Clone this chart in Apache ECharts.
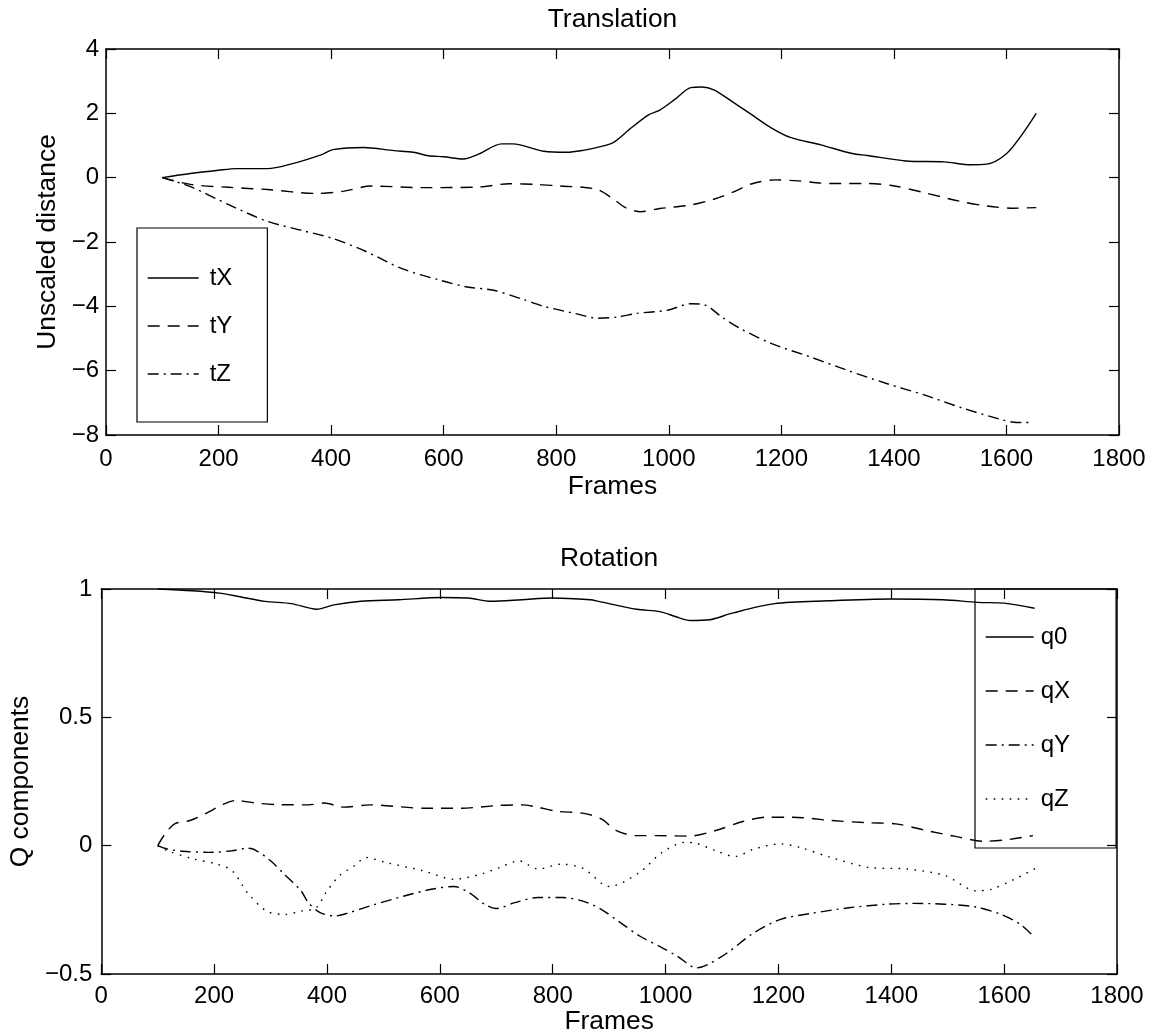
<!DOCTYPE html>
<html>
<head>
<meta charset="utf-8">
<script src="https://cdn.jsdelivr.net/npm/echarts@6/dist/echarts.min.js"></script>
<style>
  html, body { margin: 0; padding: 0; background: #fff; }
  #chart { width: 1159px; height: 1036px; }
</style>
</head>
<body>
<div id="chart"></div>
<script>
// ---- Translation (unscaled distance per frame) ----
const tXFrames = [100,150,200,232,287,328,382,403,457,512,546,573,600,635,662,703,723,778,819,848,875,902,930,964,984,1012,1039,1059,1080,1114,1148,1182,1216,1270,1326,1352,1421,1489,1537,1565,1599,1626,1653];
const tXValues = [0,0.13,0.23,0.28,0.28,0.42,0.71,0.87,0.94,0.84,0.79,0.68,0.65,0.58,0.73,1.05,1.05,0.82,0.79,0.85,0.95,1.1,1.5,1.95,2.1,2.45,2.8,2.82,2.73,2.35,1.95,1.55,1.25,1.02,0.75,0.69,0.52,0.49,0.40,0.42,0.73,1.3,2.0];

const tYFrames = [100,150,218,287,375,423,471,560,662,717,765,807,848,875,902,923,950,984,1039,1080,1114,1148,1189,1230,1285,1353,1401,1455,1516,1565,1612,1653];
const tYValues = [0,-0.21,-0.3,-0.37,-0.49,-0.42,-0.26,-0.31,-0.29,-0.19,-0.21,-0.26,-0.3,-0.38,-0.67,-0.93,-1.06,-0.96,-0.85,-0.67,-0.45,-0.19,-0.07,-0.1,-0.18,-0.18,-0.26,-0.47,-0.73,-0.88,-0.95,-0.93];

const tZFrames = [100,150,218,287,348,403,460,526,594,642,689,737,778,833,874,910,943,998,1039,1066,1094,1128,1183,1251,1319,1387,1455,1523,1591,1618,1648];
const tZValues = [0,-0.28,-0.84,-1.36,-1.64,-1.89,-2.28,-2.83,-3.19,-3.4,-3.5,-3.76,-4.0,-4.22,-4.37,-4.33,-4.22,-4.12,-3.92,-3.97,-4.33,-4.7,-5.16,-5.57,-6.0,-6.4,-6.76,-7.17,-7.52,-7.61,-7.61];

// ---- Rotation (quaternion components per frame) ----
const q0Frames = [100,161,209,243,290,337,382,412,460,527,602,650,690,745,799,867,881,949,990,1017,1044,1078,1118,1193,1288,1400,1492,1553,1600,1654];
const q0Values = [1.0,0.993,0.984,0.971,0.952,0.943,0.921,0.938,0.952,0.958,0.967,0.965,0.952,0.958,0.965,0.958,0.952,0.921,0.912,0.893,0.877,0.88,0.906,0.943,0.954,0.961,0.958,0.948,0.945,0.925];

const qXFrames = [100,113,130,157,184,218,239,273,313,367,395,429,476,571,638,706,746,773,807,855,886,913,947,988,1042,1089,1137,1178,1225,1293,1361,1408,1462,1516,1564,1604,1651];
const qXValues = [0,0.046,0.085,0.098,0.124,0.163,0.176,0.166,0.16,0.159,0.166,0.15,0.159,0.146,0.146,0.157,0.159,0.15,0.134,0.126,0.104,0.059,0.039,0.039,0.037,0.059,0.094,0.111,0.111,0.098,0.089,0.085,0.059,0.035,0.017,0.023,0.039];

const qYFrames = [100,117,144,191,232,259,273,300,327,354,367,388,415,435,476,537,585,625,652,679,699,733,774,818,859,886,920,954,994,1021,1055,1075,1109,1157,1204,1258,1325,1393,1440,1494,1548,1595,1629,1653];
const qYValues = [0,-0.013,-0.022,-0.026,-0.02,-0.01,-0.017,-0.059,-0.117,-0.176,-0.222,-0.261,-0.274,-0.264,-0.235,-0.196,-0.17,-0.159,-0.183,-0.228,-0.245,-0.222,-0.202,-0.202,-0.22,-0.248,-0.3,-0.352,-0.398,-0.431,-0.476,-0.463,-0.418,-0.339,-0.287,-0.264,-0.242,-0.228,-0.225,-0.228,-0.238,-0.268,-0.307,-0.355];

const qZFrames = [100,117,164,205,232,259,293,327,354,381,398,422,449,469,503,571,625,673,706,740,774,815,855,900,954,994,1035,1055,1089,1123,1157,1204,1238,1293,1361,1428,1496,1550,1577,1618,1655];
const qZValues = [0,-0.02,-0.052,-0.072,-0.098,-0.183,-0.255,-0.268,-0.255,-0.242,-0.183,-0.117,-0.078,-0.046,-0.065,-0.098,-0.131,-0.111,-0.085,-0.059,-0.091,-0.072,-0.09,-0.159,-0.104,-0.026,0.013,0.009,-0.02,-0.042,-0.013,0.007,-0.007,-0.046,-0.085,-0.091,-0.117,-0.176,-0.17,-0.131,-0.089];

// ---- Axis settings ----
const frameRange = { min: 0, max: 1800, interval: 200 };
const transRange = { min: -8, max: 4, interval: 2 };
const rotRange = { min: -0.5, max: 1, interval: 0.5 };

const FONT = '"Liberation Sans", Arial, Helvetica, sans-serif';
const FS = 24;      // tick and legend text
const FS_NAME = 26.4; // titles and axis names

const DASH = {
  solid: 'solid',
  dashed: [12, 8],
  dashdot: [11, 5, 2, 5],
  dotted: [1.6, 6.4]
};

function zip(xs, ys) { return xs.map((x, i) => [x, ys[i]]); }
function minus(v) { return String(v).replace('-', '\u2212'); }

const axisLineStyle = { show: true, onZero: false, lineStyle: { color: '#000', width: 1.5 } };
const tickStyle = { show: true, inside: true, length: 10, lineStyle: { color: '#000', width: 1.2 } };
const labelStyle = { color: '#000', fontSize: FS, fontFamily: FONT };
const nameStyle = { color: '#000', fontSize: FS_NAME, fontFamily: FONT };

function xAxes(grid, name, nameGap, labelMargin, title, titleGap) {
  return [
    Object.assign({ gridIndex: grid, type: 'value', position: 'bottom',
      name: name, nameLocation: 'middle', nameGap: nameGap,
      nameTextStyle: nameStyle,
      axisLine: axisLineStyle, axisTick: tickStyle,
      axisLabel: Object.assign({ margin: labelMargin, formatter: minus }, labelStyle),
      splitLine: { show: false } }, frameRange),
    Object.assign({ gridIndex: grid, type: 'value', position: 'top',
      name: title, nameLocation: 'middle', nameGap: titleGap,
      nameTextStyle: nameStyle,
      axisLine: axisLineStyle, axisTick: tickStyle,
      axisLabel: { show: false }, splitLine: { show: false } }, frameRange)
  ];
}

function yAxes(grid, range, name, nameGap, margin) {
  return [
    Object.assign({ gridIndex: grid, type: 'value', position: 'left',
      name: name, nameLocation: 'middle', nameGap: nameGap,
      nameTextStyle: nameStyle,
      axisLine: axisLineStyle, axisTick: tickStyle,
      axisLabel: Object.assign({ margin: margin, formatter: minus }, labelStyle),
      splitLine: { show: false } }, range),
    Object.assign({ gridIndex: grid, type: 'value', position: 'right',
      axisLine: axisLineStyle, axisTick: tickStyle,
      axisLabel: { show: false }, splitLine: { show: false } }, range)
  ];
}

function lineSeries(name, frames, values, dash, xi, yi) {
  return {
    name: name, type: 'line', xAxisIndex: xi, yAxisIndex: yi,
    data: zip(frames, values),
    symbol: 'none', showSymbol: false, smooth: 0.3,
    lineStyle: { color: '#000', width: 1.4, type: dash },
    itemStyle: { color: '#000' },
    emphasis: { disabled: true }
  };
}

function legendItem(name, dash) {
  return { name: name, lineStyle: { color: '#000', width: 1.4, type: dash } };
}

// legend keys show only the line sample, no marker
const hiddenMarker = { color: 'rgba(0,0,0,0)', borderWidth: 0, opacity: 0 };

const chart = echarts.init(document.getElementById('chart'), null, { renderer: 'canvas' });

chart.setOption({
  animation: false,
  backgroundColor: '#fff',
  grid: [
    { left: 106, top: 49, width: 1013, height: 386, containLabel: false },
    { left: 100, top: 589, width: 1017, height: 385, containLabel: false }
  ],
  xAxis: [].concat(
    xAxes(0, 'Frames', 39, 12, 'Translation', 16),
    xAxes(1, 'Frames', 20, 10, 'Rotation', 17)
  ),
  yAxis: [].concat(
    yAxes(0, transRange, 'Unscaled distance', 35, 7),
    yAxes(1, rotRange, 'Q components', 66, 9)
  ),
  legend: [
    {
      data: [legendItem('tX', DASH.solid), legendItem('tY', DASH.dashed), legendItem('tZ', DASH.dashdot)],
      orient: 'vertical', left: 137, top: 228,
      padding: [38, 35, 36, 10], itemGap: 24, itemWidth: 51, itemHeight: 24,
      borderColor: '#000', borderWidth: 1.2, selectedMode: false,
      itemStyle: hiddenMarker,
      textStyle: Object.assign({ padding: [0, 0, 0, 6] }, labelStyle)
    },
    {
      data: [legendItem('q0', DASH.solid), legendItem('qX', DASH.dashed), legendItem('qY', DASH.dashdot), legendItem('qZ', DASH.dotted)],
      orient: 'vertical', left: 975, top: 589,
      padding: [36, 46, 37, 10], itemGap: 30, itemWidth: 48, itemHeight: 24,
      borderColor: '#000', borderWidth: 1.2, selectedMode: false,
      itemStyle: hiddenMarker,
      textStyle: Object.assign({ padding: [0, 0, 0, 2] }, labelStyle)
    }
  ],
  series: [
    lineSeries('tX', tXFrames, tXValues, DASH.solid, 0, 0),
    lineSeries('tY', tYFrames, tYValues, DASH.dashed, 0, 0),
    lineSeries('tZ', tZFrames, tZValues, DASH.dashdot, 0, 0),
    lineSeries('q0', q0Frames, q0Values, DASH.solid, 2, 2),
    lineSeries('qX', qXFrames, qXValues, DASH.dashed, 2, 2),
    lineSeries('qY', qYFrames, qYValues, DASH.dashdot, 2, 2),
    lineSeries('qZ', qZFrames, qZValues, DASH.dotted, 2, 2)
  ]
});
</script>
</body>
</html>
